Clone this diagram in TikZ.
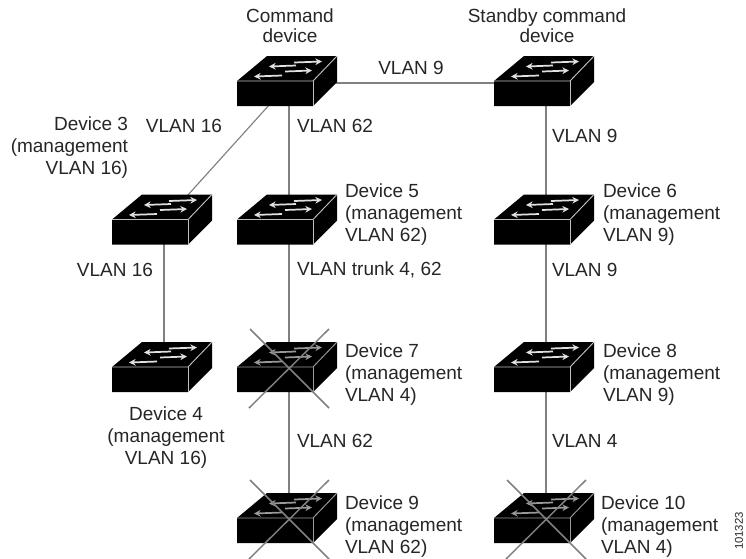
\documentclass[tikz,border=0pt]{standalone}
\usepackage{fontspec}
\setmainfont{Liberation Sans}
\usetikzlibrary{arrows.meta}
\tikzset{
  x=0.75pt,y=-0.75pt,
  hub/.style={inner sep=0pt,minimum size=0pt,outer sep=0pt},
  link/.style={draw=black!50,line width=0.85pt},
  lbl/.style={inner sep=0pt,outer sep=0pt,text=black!85,font=\fontsize{14.25}{16.5}\selectfont},
  lblL/.style={lbl,anchor=west,align=left},
  lblC/.style={lbl,anchor=center,align=center},
  lblT/.style={lblC,font=\fontsize{14.25}{15}\selectfont},
  edge line/.style={draw=black!25,line width=0.7pt},
  flow/.style={black!12,line width=1.3pt,-{Stealth[length=5pt,width=5pt]}},
  kill/.style={draw=black!50,line width=1.1pt},
  pics/switchbox/.style={code={
    \fill[black] (-52,-2) -- (-22,-27) -- (48,-27) -- (48,-1) -- (24,23) -- (-52,23) -- cycle;
    \draw[edge line] (-52,-2) -- (24,-2) -- (48,-27);
    \draw[edge line] (24,-2) -- (24,23);
    \draw[flow] (5,-20.5) -- (33,-21.5);
    \draw[flow] (7,-17.5) -- (-20,-16.5);
    \draw[flow] (-4,-11.5) -- (23,-12.5);
    \draw[flow] (-7,-7.5) -- (-35,-6.5);
  }},
  pics/crossbox/.style={code={
    \fill[black] (-52,-2) -- (-22,-27) -- (48,-27) -- (48,-1) -- (24,23) -- (-52,23) -- cycle;
    \draw[edge line,draw=black!40] (-52,-2) -- (24,-2) -- (48,-27);
    \draw[edge line,draw=black!40] (24,-2) -- (24,23);
    \draw[flow,black!40] (5,-20.5) -- (33,-21.5);
    \draw[flow,black!40] (7,-17.5) -- (-20,-16.5);
    \draw[flow,black!40] (-4,-11.5) -- (23,-12.5);
    \draw[flow,black!40] (-7,-7.5) -- (-35,-6.5);
    \draw[kill] (-39,-40) -- (40,39);
    \draw[kill] (40,-40) -- (-40,39);
  }},
}
\begin{document}
\begin{tikzpicture}
\useasboundingbox[fill=white] (0,0) rectangle (746,558);
\node[hub] (cmd) at (289,83) {};
\node[hub] (stby) at (546,83) {};
\node[hub] (d3) at (164,221.5) {};
\node[hub] (d5) at (289,221.5) {};
\node[hub] (d6) at (546,221.5) {};
\node[hub] (d4) at (164,369) {};
\node[hub] (d7) at (289,369) {};
\node[hub] (d8) at (546,369) {};
\node[hub] (d9) at (289,520) {};
\node[hub] (d10) at (546,520) {};
\draw[link] (cmd) -- (stby);
\draw[link] (cmd) -- (d3);
\draw[link] (cmd) -- (d5);
\draw[link] (stby) -- (d6);
\draw[link] (d3) -- (d4);
\draw[link] (d5) -- (d7);
\draw[link] (d7) -- (d9);
\draw[link] (d6) -- (d8);
\draw[link] (d8) -- (d10);
\foreach \n in {cmd,stby,d3,d5,d6,d4,d8} \pic at (\n) {switchbox};
\foreach \n in {d7,d9,d10} \pic at (\n) {crossbox};
\node[lblT] (tcmd) at (290,26) {Command\\device};
\node[lblT] (tstby) at (547,26) {Standby command\\device};
\node[lblC] (v9a) at (411,68) {VLAN 9};
\node[lblC] (v16a) at (184,126) {VLAN 16};
\node[lblL] (v62a) at (297,126) {VLAN 62};
\node[lblL] (v9b) at (552,136) {VLAN 9};
\node[lbl,anchor=east,align=right] (t3) at (128,148) {Device 3\hspace{18.75pt}\\(management\\VLAN 16)};
\node[lblL] (t5) at (345,215) {Device 5\\(management\\VLAN 62)};
\node[lblL] (t6) at (603,215) {Device 6\\(management\\VLAN 9)};
\node[lblC] (v16b) at (115,270) {VLAN 16};
\node[lblL] (vtr) at (297,270) {VLAN trunk 4, 62};
\node[lblL] (v9c) at (552,270) {VLAN 9};
\node[lblL] (t7) at (345,375) {Device 7\\(management\\VLAN 4)};
\node[lblL] (t8) at (603,375) {Device 8\\(management\\VLAN 9)};
\node[lblC] (t4) at (166,437.5) {Device 4\\(management\\VLAN 16)};
\node[lblL] (v62b) at (297,441) {VLAN 62};
\node[lblL] (v4) at (552,441) {VLAN 4};
\node[lblL] (t9) at (345,527) {Device 9\\(management\\VLAN 62)};
\node[lblL] (t10) at (601,527) {Device 10\\(management\\VLAN 4)};
\node[lbl,font=\fontsize{8.5}{10}\selectfont,rotate=90] (fig) at (739,531) {101323};
\end{tikzpicture}
\end{document}
